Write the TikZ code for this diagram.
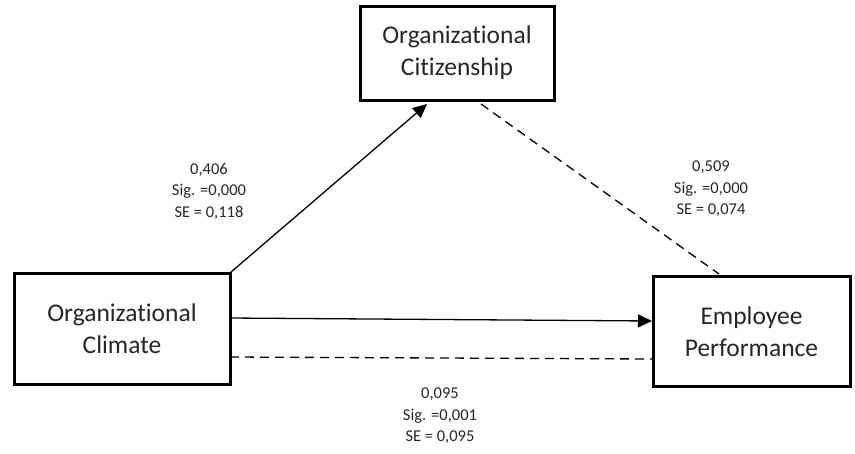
\documentclass[tikz,border=0pt]{standalone}
\usepackage{fontspec}
\setmainfont{Carlito}[Ligatures=NoCommon]
\usetikzlibrary{arrows.meta}
\begin{document}
\begin{tikzpicture}[x=1pt,y=-1pt,
  box/.style={draw,line width=3pt,inner sep=0pt,align=center,font=\fontsize{25.5}{32}\selectfont,text=black!85},
  lbl/.style={align=center,font=\fontsize{16.5}{21.5}\selectfont,text=black!85},
  conn/.style={line width=1.3pt},
  arr/.style={conn,-{Triangle[length=14pt,width=13pt]}},
  dsh/.style={conn,dash pattern=on 9pt off 6pt}]
\useasboundingbox (0,0) rectangle (855,453);
\node[box,minimum width=216pt,minimum height=111pt] (oc) at (122,329) {Organizational\\Climate};
\node[box,minimum width=197pt,minimum height=110pt] (ep) at (751.5,331.5) {Employee\\Performance};
\node[box,minimum width=194pt,minimum height=94pt] (cit) at (457,53) {Organizational\\Citizenship};
\coordinate (a1) at (231,272);
\coordinate (a2) at (427,104);
\draw[arr] (a1) -- (a2);
\coordinate (b1) at (230,318);
\coordinate (b2) at (652,321);
\draw[arr] (b1) -- (b2);
\coordinate (c1) at (230,357);
\coordinate (c2) at (652,359);
\draw[dsh] (c1) -- (c2);
\coordinate (d1) at (481,104);
\coordinate (d2) at (719,274);
\draw[dsh] (d1) -- (d2);
\node[lbl] (l1) at (209,191) {0,406\\Sig. =0,000\\SE = 0,118};
\node[lbl] (l2) at (711,189) {0,509\\Sig. =0,000\\SE = 0,074};
\node[lbl] (l3) at (440,416) {0,095\\Sig. =0,001\\SE = 0,095};
\end{tikzpicture}
\end{document}
